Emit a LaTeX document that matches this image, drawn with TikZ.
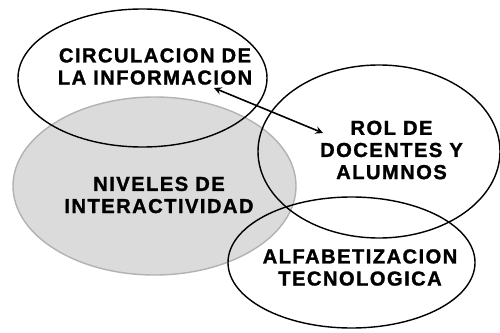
\documentclass[tikz,border=0pt]{standalone}
\usepackage{fontspec}
\setmainfont{Liberation Sans}
\tikzset{
  rotulo/.style={align=center, inner sep=0pt,
    font=\fontsize{11.5}{12.6}\selectfont\bfseries\addfontfeature{LetterSpace=7,FakeBold=1.3}},
  borde/.style={line width=0.8pt}
}
\begin{document}
\begin{tikzpicture}
    \useasboundingbox (0,0) rectangle (10,6.64);
    % shaded set first, the others are drawn over it
    \draw[fill=gray!28, draw=gray!60, line width=0.8pt] (3.09,2.92) ellipse (2.83 and 1.78);
    \draw[borde] (2.85,5.08) ellipse (2.49 and 1.38);
    \draw[borde] (7.58,3.61) ellipse (2.42 and 1.73);
    \draw[borde] (7.03,1.39) ellipse (2.47 and 1.31);
    % labels
    \node[rotulo] (circ) at (3.10,5.31) {CIRCULACION DE\\LA INFORMACION};
    \node[rotulo] (niv) at (3.18,2.74) {NIVELES DE\\INTERACTIVIDAD};
    \node[rotulo] (rol) at (7.83,3.64) {ROL DE\\DOCENTES Y\\ALUMNOS};
    \node[rotulo] (alfa) at (7.20,1.29) {ALFABETIZACION\\TECNOLOGICA};
    % link between the two sets
    \coordinate (c-ext) at (4.28,4.88);
    \coordinate (r-ext) at (6.46,3.98);
    \draw[line width=0.9pt, <->, >=stealth] (c-ext) -- (r-ext);
\end{tikzpicture}
\end{document}
